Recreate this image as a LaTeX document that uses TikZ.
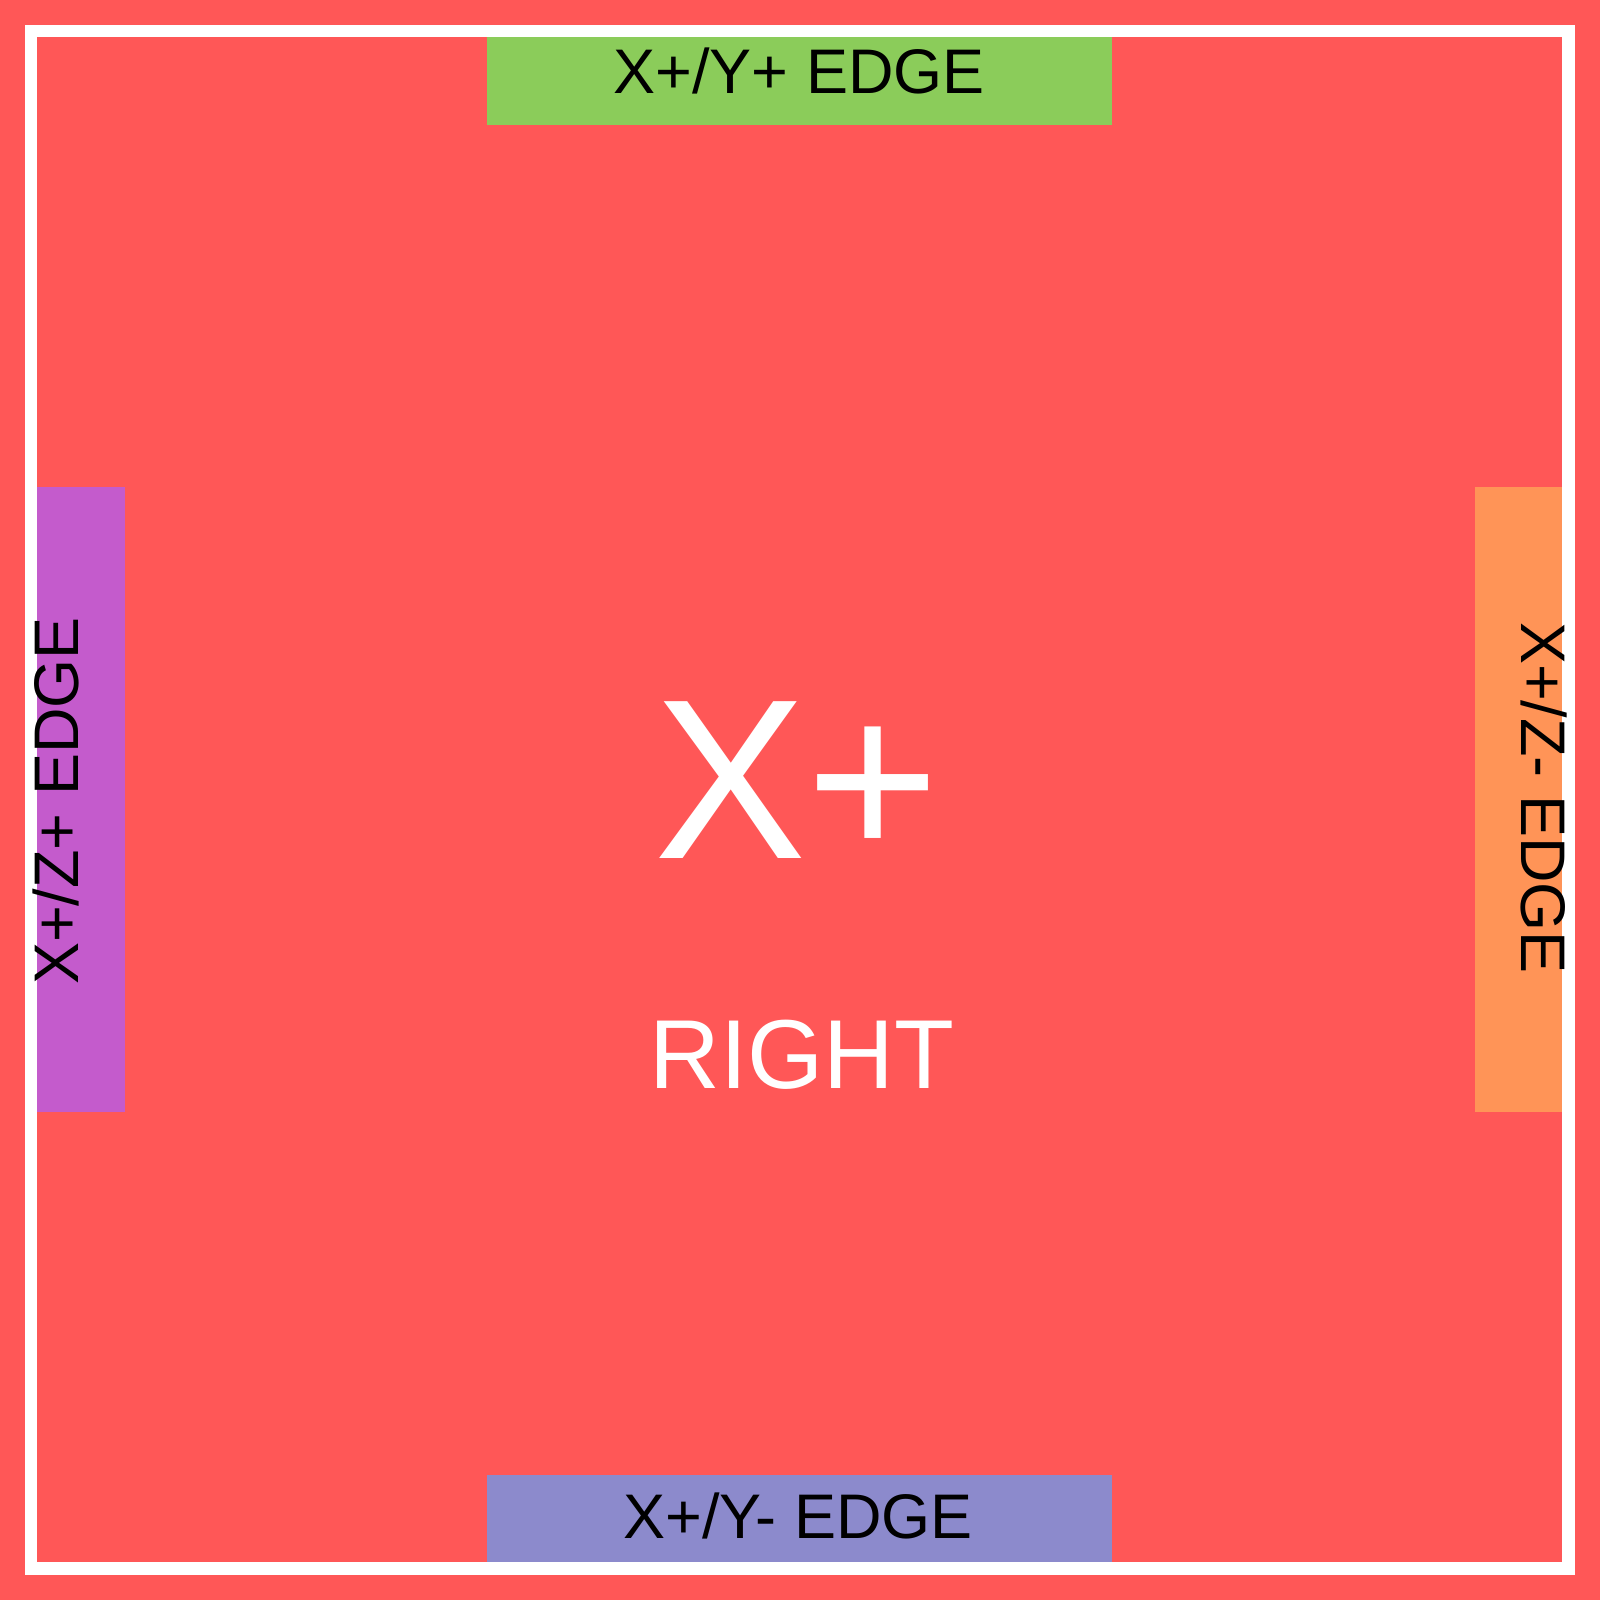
\documentclass[tikz,border=0pt]{standalone}
\usepackage{fontspec}
\setmainfont{Liberation Sans}
\usetikzlibrary{positioning}
\definecolor{facered}{HTML}{FF5757}
\definecolor{edgegreen}{HTML}{8BCC5A}
\definecolor{edgepurple}{HTML}{C45BCC}
\definecolor{edgeorange}{HTML}{FF9457}
\definecolor{edgeblue}{HTML}{8C8ACC}

\begin{document}
\begin{tikzpicture}[
    x=0.5pt, y=-0.5pt,
    hbox/.style={draw=none, inner sep=0pt, minimum width=312.5pt, minimum height=44pt},
    vbox/.style={draw=none, inner sep=0pt, minimum width=44pt, minimum height=312.5pt},
    edgelabel/.style={inner sep=0pt, anchor=base, text=black,
                      font=\fontsize{31.5}{38}\selectfont},
    bigtitle/.style={inner sep=0pt, anchor=base, text=white,
                     font=\fontsize{114}{130}\selectfont},
    subtitle/.style={inner sep=0pt, anchor=base, text=white,
                     font=\fontsize{49}{58}\selectfont}
]
\fill[facered] (0,0) rectangle (1600,1600);
\useasboundingbox (0,0) rectangle (1600,1600);
\node[hbox, fill=edgegreen] (top) at (799.5,81) {};
\node[hbox, fill=edgeblue] (bottom) at (799.5,1518.5) {};
\node[vbox, fill=edgepurple] (left) at (81,799.5) {};
\node[vbox, fill=edgeorange] (right) at (1518.5,799.5) {};
\draw[white, line width=6.25pt] (31,31) rectangle (1568.5,1568.5);
\node[edgelabel] (toplabel) at (799,94) {X+/Y+ EDGE};
\node[edgelabel] (bottomlabel) at (798,1538) {X+/Y- EDGE};
\node[edgelabel, rotate=90] (leftlabel) at (78.5,801) {X+/Z+ EDGE};
\node[edgelabel, rotate=-90] (rightlabel) at (1521,798) {X+/Z- EDGE};
\node[bigtitle] (face) at (797.5,858) {X+};
\node[subtitle] (facename) at (802,1088) {RIGHT};
\end{tikzpicture}
\end{document}
